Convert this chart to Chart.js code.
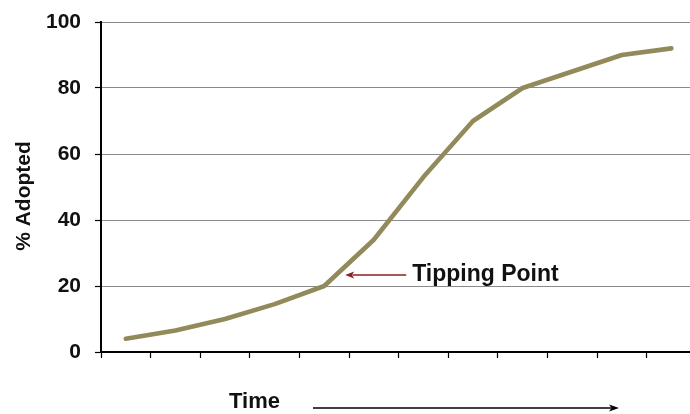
<!DOCTYPE html>
<html>
<head>
<meta charset="utf-8">
<script src="https://cdn.jsdelivr.net/npm/chart.js@4/dist/chart.umd.min.js"></script>
<style>
  html, body { margin: 0; padding: 0; background: #ffffff; }
  #wrap { width: 690px; height: 414px; position: relative; }
</style>
</head>
<body>
<div id="wrap"><canvas id="c" width="690" height="414"></canvas></div>
<script>
// Adoption over time (S-curve)
const periods = [1, 2, 3, 4, 5, 6, 7, 8, 9, 10, 11, 12];
const adopted = [4, 6.5, 10, 14.5, 20, 34, 53, 70, 80, 85, 90, 92];
const yTicks = [0, 20, 40, 60, 80, 100];
const periodBounds = [0.5, 1.5, 2.5, 3.5, 4.5, 5.5, 6.5, 7.5, 8.5, 9.5, 10.5, 11.5];
const tippingPeriod = 5;
const yTitle = '% Adopted';
const xTitle = 'Time';
const tippingLabel = 'Tipping Point';

const FONT = '"Liberation Sans", Arial, sans-serif';

function arrow(ctx, x1, y1, x2, y2, color, width, headLen, headHalf) {
  const ang = Math.atan2(y2 - y1, x2 - x1);
  ctx.save();
  ctx.strokeStyle = color;
  ctx.fillStyle = color;
  ctx.lineWidth = width;
  ctx.beginPath();
  ctx.moveTo(x1, y1);
  ctx.lineTo(x2 - Math.cos(ang) * headLen * 0.8, y2 - Math.sin(ang) * headLen * 0.8);
  ctx.stroke();
  ctx.translate(x2, y2);
  ctx.rotate(ang);
  ctx.beginPath();
  ctx.moveTo(0, 0);
  ctx.lineTo(-headLen, -headHalf);
  ctx.lineTo(-headLen * 0.75, 0);
  ctx.lineTo(-headLen, headHalf);
  ctx.closePath();
  ctx.fill();
  ctx.restore();
}

const annotations = {
  id: 'annotations',
  afterDraw(chart) {
    const ctx = chart.ctx;
    const xs = chart.scales.x, ys = chart.scales.y;
    ctx.save();
    ctx.fillStyle = '#111';

    // vertical axis title
    ctx.save();
    ctx.translate(24, 196);
    ctx.rotate(-Math.PI / 2);
    ctx.font = 'bold 21px ' + FONT;
    ctx.textAlign = 'center';
    ctx.textBaseline = 'middle';
    ctx.fillText(yTitle, 0, 0);
    ctx.restore();

    // time title with arrow
    ctx.font = 'bold 22px ' + FONT;
    ctx.textAlign = 'left';
    ctx.textBaseline = 'alphabetic';
    ctx.fillText(xTitle, 229, 408);
    arrow(ctx, 313, 408, 619, 408, '#000', 1.4, 10, 3.5);

    // tipping point callout
    const px = xs.getPixelForValue(tippingPeriod);
    const py = ys.getPixelForValue(adopted[periods.indexOf(tippingPeriod)]);
    const tipX = px + 21, tipY = py - 11;
    arrow(ctx, tipX + 61, tipY, tipX, tipY, '#8a1f1f', 1.5, 9, 3.5);
    ctx.fillStyle = '#111';
    ctx.font = 'bold 23px ' + FONT;
    ctx.textBaseline = 'middle';
    ctx.fillText(tippingLabel, tipX + 67, tipY);
    ctx.restore();
  }
};

new Chart(document.getElementById('c'), {
  type: 'line',
  data: {
    datasets: [{
      data: periods.map((p, i) => ({ x: p, y: adopted[i] })),
      borderColor: '#938a5b',
      borderWidth: 4.6,
      pointRadius: 0,
      tension: 0,
      borderCapStyle: 'round',
      borderJoinStyle: 'round'
    }]
  },
  options: {
    responsive: false,
    animation: false,
    layout: { padding: { top: 22, right: 0, bottom: 0, left: 0 } },
    plugins: { legend: { display: false }, tooltip: { enabled: false } },
    scales: {
      x: {
        type: 'linear',
        min: 0.5,
        max: 0.5 + 589 / 49.6,
        afterBuildTicks(scale) { scale.ticks = periodBounds.map(v => ({ value: v })); },
        afterFit(scale) { scale.height = 62; scale.paddingLeft = 0; scale.paddingRight = 0; },
        ticks: { callback: () => '', padding: 0 },
        grid: { drawOnChartArea: false, drawTicks: true, tickLength: 6, tickColor: '#000', tickWidth: 1.2 },
        border: { color: '#000', width: 2 }
      },
      y: {
        min: 0,
        max: 100,
        afterBuildTicks(scale) { scale.ticks = yTicks.map(v => ({ value: v })); },
        afterFit(scale) { scale.width = 101; scale.paddingTop = 0; scale.paddingBottom = 0; },
        ticks: {
          padding: 14,
          color: '#111',
          font: { family: FONT, size: 21, weight: 'bold' }
        },
        grid: { color: '#8a8a8a', lineWidth: 1, tickLength: 6, tickColor: '#000', tickWidth: 1.2 },
        border: { color: '#000', width: 2 }
      }
    }
  },
  plugins: [annotations]
});
</script>
</body>
</html>
